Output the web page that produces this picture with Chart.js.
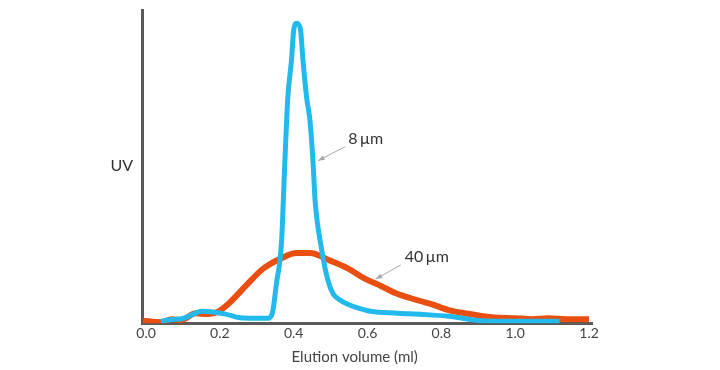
<!DOCTYPE html>
<html>
<head>
<meta charset="utf-8">
<script src="https://cdn.jsdelivr.net/npm/chart.js@4"></script>
<style>
  html, body { margin: 0; padding: 0; background: #fff; }
  #wrap { width: 720px; height: 370px; position: relative; }
</style>
</head>
<body>
<div id="wrap"><canvas id="chart"></canvas></div>
<script>
// elution volume (ml) and UV signal
const blueX = [0.04, 0.07, 0.10, 0.13, 0.15, 0.18, 0.216, 0.25, 0.28, 0.33, 0.342, 0.353, 0.367, 0.375, 0.384, 0.394, 0.400, 0.408, 0.418, 0.425, 0.435, 0.444, 0.452, 0.458, 0.475, 0.493, 0.507, 0.525, 0.545, 0.575, 0.608, 0.682, 0.75, 0.82, 0.91, 1.05, 1.12];
const blueY = [0.6, 1.2, 1.5, 3.0, 3.8, 3.6, 2.9, 1.8, 1.6, 1.6, 3.2, 12.5, 26, 48.7, 72, 84, 93.6, 95.8, 94, 84, 72, 64.7, 52, 39, 24, 13.5, 9.3, 7.4, 6.1, 4.8, 3.8, 3.2, 2.8, 2.2, 0.8, 0.6, 0.6];

const orangeX = [-0.008, 0.04, 0.07, 0.096, 0.134, 0.17, 0.197, 0.225, 0.27, 0.316, 0.362, 0.408, 0.444, 0.50, 0.545, 0.59, 0.636, 0.682, 0.773, 0.82, 0.863, 0.937, 1.0, 1.047, 1.09, 1.137, 1.2];
const orangeY = [0.8, 0.3, 1.3, 1.0, 3.2, 2.9, 3.8, 6.4, 11.9, 17.3, 20.5, 22.4, 22.4, 19.9, 17.6, 14.4, 11.9, 9.3, 6.1, 4.2, 3.2, 1.9, 1.6, 1.3, 1.6, 1.3, 1.3];

const xTicks = [0.0, 0.2, 0.4, 0.6, 0.8, 1.0, 1.2];

// callout labels: text position and arrow (from -> to) in data units
const callouts = [
  { text: '8\u2009\u00b5m', tx: 0.548, ty: 59, fx: 0.54, fy: 56.4, toX: 0.466, toY: 51.9 },
  { text: '40\u2009\u00b5m', tx: 0.701, ty: 21.2, fx: 0.69, fy: 18.6, toX: 0.622, toY: 14.1 }
];

const FONT = 'Lato, "Open Sans", sans-serif';

const pts = (xs, ys) => xs.map((x, i) => ({ x: x, y: ys[i] }));

const calloutPlugin = {
  id: 'callouts',
  afterDatasetsDraw(chart) {
    const c = chart.ctx, xs = chart.scales.x, ys = chart.scales.y;
    c.save();
    callouts.forEach(o => {
      const x1 = xs.getPixelForValue(o.fx), y1 = ys.getPixelForValue(o.fy);
      const x2 = xs.getPixelForValue(o.toX), y2 = ys.getPixelForValue(o.toY);
      c.strokeStyle = '#a8a8a8';
      c.fillStyle = '#a8a8a8';
      c.lineWidth = 1;
      c.beginPath(); c.moveTo(x1, y1); c.lineTo(x2, y2); c.stroke();
      const a = Math.atan2(y2 - y1, x2 - x1);
      c.beginPath();
      c.moveTo(x2, y2);
      c.lineTo(x2 - 7 * Math.cos(a - 0.35), y2 - 7 * Math.sin(a - 0.35));
      c.lineTo(x2 - 7 * Math.cos(a + 0.35), y2 - 7 * Math.sin(a + 0.35));
      c.closePath(); c.fill();
      c.fillStyle = '#333';
      c.font = '16px ' + FONT;
      c.textBaseline = 'middle';
      c.textAlign = 'left';
      c.fillText(o.text, xs.getPixelForValue(o.tx), ys.getPixelForValue(o.ty));
    });
    // axis labels
    c.fillStyle = '#333';
    c.font = '16px ' + FONT;
    c.textAlign = 'right';
    c.textBaseline = 'middle';
    c.fillText('UV', chart.chartArea.left - 9, 166);
    c.fillStyle = '#444';
    c.font = '15px ' + FONT;
    c.textAlign = 'center';
    c.fillText('Elution volume (ml)', xs.getPixelForValue(0.565), 357);
    c.restore();
  }
};

new Chart(document.getElementById('chart'), {
  type: 'line',
  data: {
    datasets: [
      {
        label: '8 µm',
        data: pts(blueX, blueY),
        borderColor: '#22b9ec',
        borderWidth: 5,
        pointRadius: 0,
        cubicInterpolationMode: 'monotone'
      },
      {
        label: '40 µm',
        data: pts(orangeX, orangeY),
        borderColor: '#e84f10',
        borderWidth: 6,
        pointRadius: 0,
        cubicInterpolationMode: 'monotone'
      }
    ]
  },
  options: {
    responsive: true,
    maintainAspectRatio: false,
    animation: false,
    layout: { padding: { left: 142, right: 128, top: 10, bottom: 26 } },
    plugins: { legend: { display: false }, tooltip: { enabled: false } },
    scales: {
      x: {
        type: 'linear',
        min: -0.011,
        max: 1.208,
        afterBuildTicks: s => { s.ticks = xTicks.map(v => ({ value: v })); },
        grid: { display: false, drawTicks: false },
        border: { color: '#5a5a5a', width: 3 },
        ticks: {
          color: '#444',
          font: { size: 14, family: FONT },
          padding: 2,
          maxRotation: 0,
          callback: v => v.toFixed(1)
        }
      },
      y: {
        min: 0,
        max: 100,
        ticks: { display: false },
        grid: { display: false, drawTicks: false },
        border: { color: '#5a5a5a', width: 3 }
      }
    }
  },
  plugins: [calloutPlugin]
});
</script>
</body>
</html>
